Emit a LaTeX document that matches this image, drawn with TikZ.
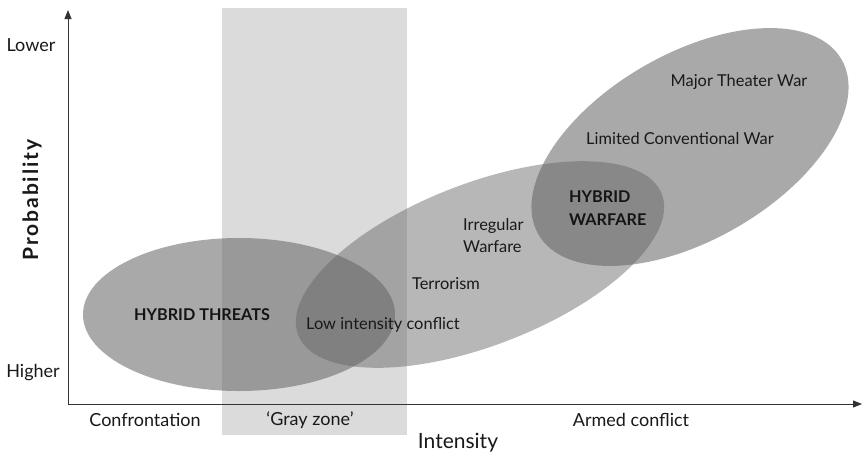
\documentclass[tikz,border=0pt]{standalone}
\usepackage{fontspec}
\setmainfont{Lato}
\usetikzlibrary{arrows.meta}
\begin{document}
\begin{tikzpicture}[x=1pt,y=-1pt,
  lbl/.style={font=\fontsize{16.4}{22}\selectfont, inner sep=0pt, text=black!90},
  hybrid/.style={font=\fontsize{16.2}{23}\selectfont\bfseries, inner sep=0pt, text=black!92},
  axislbl/.style={font=\fontsize{18}{20}\selectfont, inner sep=0pt, text=black!90},
  title/.style={font=\fontsize{21}{24}\selectfont, inner sep=0pt, text=black!90},
  axis/.style={line width=1pt, draw=black!80, -{Triangle[length=9pt,width=7pt]}},
  blob/.style={fill=black!61, fill opacity=0.55},
  lightblob/.style={fill=black!61, fill opacity=0.46},
  zone/.style={fill=black!14},
  ]
\useasboundingbox[fill=white] (0,0) rectangle (864,458);
% gray zone band
\fill[zone] (222,8) rectangle (407,435);
% ellipses
\fill[blob] (239,314.5) ellipse [x radius=156pt, y radius=76.5pt];
\fill[lightblob, shift={(480,264.5)}, rotate=21.2] (0,0) ellipse [x radius=195pt, y radius=81pt];
\fill[blob, shift={(690,147)}, rotate=30] (0,0) ellipse [x radius=175pt, y radius=93pt];
% axes
\coordinate (O) at (68,404);
\coordinate (ytip) at (68,10);
\coordinate (xtip) at (862,404);
\draw[axis] (O) -- (ytip);
\draw[axis] (O) -- (xtip);
% axis labels
\node[axislbl] (lower) at (31,45) {Lower};
\node[axislbl] (higher) at (33,373) {Higher};
\node[title, font=\fontsize{21}{24}\selectfont\bfseries\addfontfeatures{LetterSpace=9}, rotate=90] (prob) at (32,200) {Probability};
\node[axislbl] (conf) at (145,420) {Confrontation};
\node[axislbl] (gray) at (310,420) {‘Gray zone’};
\node[axislbl] (armed) at (631,420) {Armed conflict};
\node[title] (int) at (458,443) {Intensity};
% labels inside
\node[hybrid] (threats) at (202,315) {HYBRID THREATS};
\node[lbl] (lic) at (383,325) {Low intensity conflict};
\node[lbl] (terr) at (446,284) {Terrorism};
\node[lbl, align=left, anchor=west] (irr) at (463,236) {Irregular\\Warfare};
\node[hybrid, align=left, anchor=west] (warfare) at (569,208) {HYBRID\\WARFARE};
\node[lbl] (lcw) at (680,139) {Limited Conventional War};
\node[lbl] (mtw) at (739,82) {Major Theater War};
\end{tikzpicture}
\end{document}
